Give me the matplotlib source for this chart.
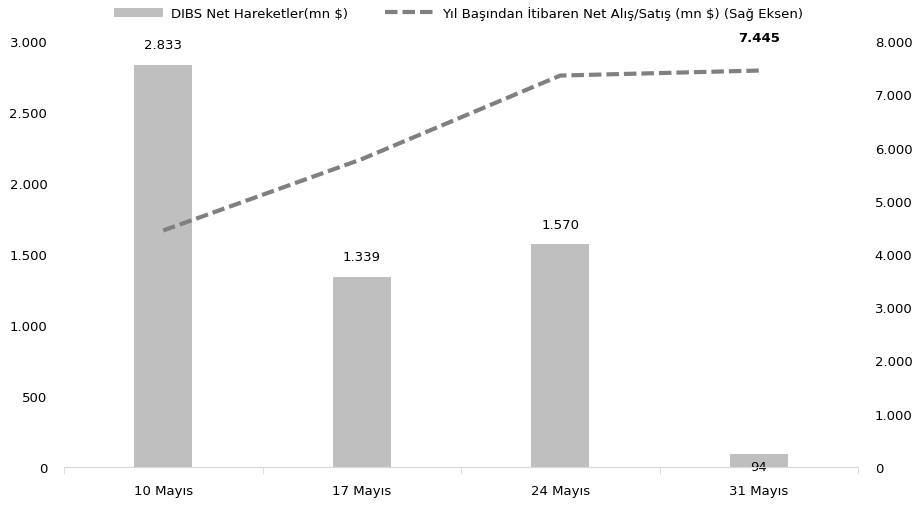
import matplotlib.pyplot as plt
from matplotlib.ticker import FuncFormatter

categories = ['10 Mayıs', '17 Mayıs', '24 Mayıs', '31 Mayıs']
dibs_net = [2833, 1339, 1570, 94]
ytd_net = [4442, 5781, 7351, 7445]

def tr_fmt(v, pos=None):
    return f"{int(v):,}".replace(",", ".")

plt.rcParams['font.family'] = ['DejaVu Sans']
plt.rcParams['font.size'] = 9.5

fig = plt.figure(figsize=(9.17, 5.06), dpi=100)
ax = fig.add_axes([64 / 917, 38 / 506, 794 / 917, 426 / 506])
ax2 = ax.twinx()

x = range(len(categories))
bars = ax.bar(x, dibs_net, width=0.29, color='#BFBFBF', label='DIBS Net Hareketler(mn $)', zorder=2)
line, = ax2.plot(x, ytd_net, color='#808080', lw=3, ls=(0, (3, 1.2)),
                 label='Yıl Başından İtibaren Net Alış/Satış (mn $) (Sağ Eksen)', zorder=3)

ax.set_xlim(-0.5, 3.5)
ax.set_ylim(0, 3000)
ax2.set_ylim(0, 8000)
ax.set_yticks(range(0, 3001, 500))
ax2.set_yticks(range(0, 8001, 1000))
ax.yaxis.set_major_formatter(FuncFormatter(tr_fmt))
ax2.yaxis.set_major_formatter(FuncFormatter(tr_fmt))
ax.set_xticks(list(x))
ax.set_xticklabels(categories)
ax.set_xticks([-0.5, 0.5, 1.5, 2.5, 3.5], minor=True)

for a in (ax, ax2):
    for s in ('top', 'left', 'right'):
        a.spines[s].set_visible(False)
    a.spines['bottom'].set_color('#D9D9D9')
ax.tick_params(axis='x', which='major', length=0, pad=12)
ax.tick_params(axis='x', which='minor', length=5, color='#D9D9D9')
ax.tick_params(axis='y', length=0, pad=12)
ax2.tick_params(axis='y', length=0, pad=12)

for i, (b, v) in enumerate(zip(bars, dibs_net)):
    if v > 500:
        ax.text(b.get_x() + b.get_width() / 2, v + 95, tr_fmt(v), ha='center', va='bottom')
    else:
        ax.text(b.get_x() + b.get_width() / 2, v - 45, tr_fmt(v), ha='center', va='top')

ax2.text(3, ytd_net[-1] + 500, tr_fmt(ytd_net[-1]), ha='center', va='bottom', fontweight='bold')

fig.legend(handles=[bars, line], loc='upper center', bbox_to_anchor=(0.5, 1.01), ncol=2,
           frameon=False, handlelength=3.7, handletextpad=0.6, columnspacing=2.8, fontsize=9.5)

fig.savefig('out.png', dpi=100)
